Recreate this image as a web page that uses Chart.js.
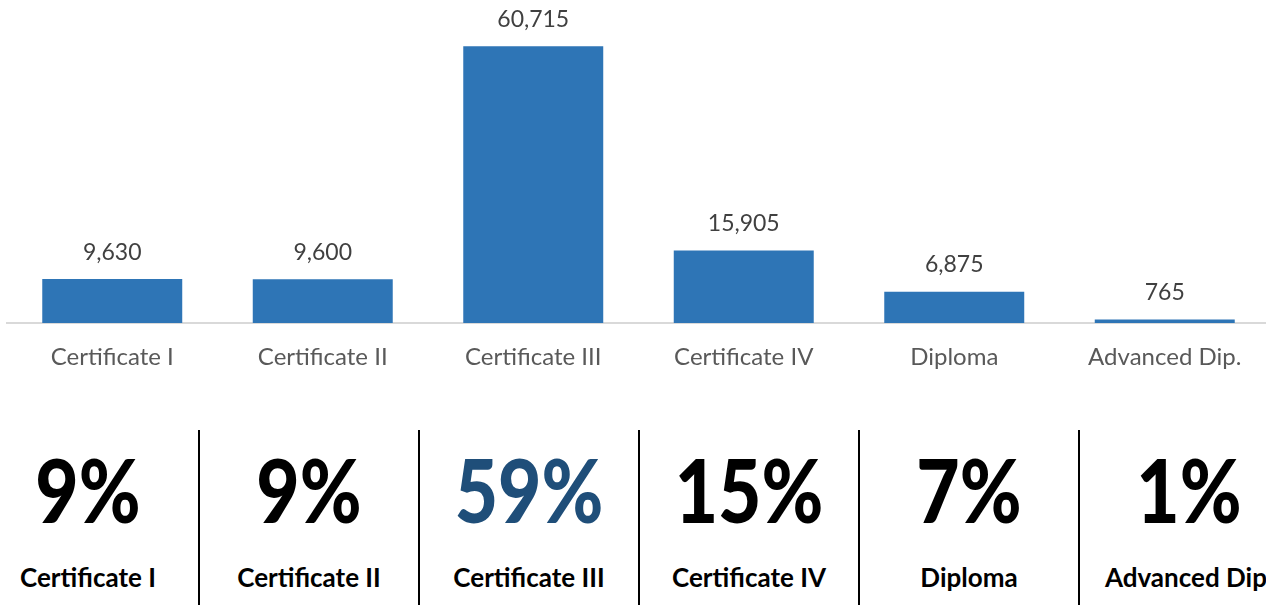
<!DOCTYPE html>
<html lang="en">
<head>
    <meta charset="UTF-8">
    <title>Qualification Levels</title>
    <script src="https://cdn.jsdelivr.net/npm/chart.js"></script>
    <style>
        html, body { margin: 0; padding: 0; background: #fff; overflow: hidden; }
        body { width: 1266px; height: 605px; position: relative; font-family: Lato, Arial, sans-serif; }
        #chart-box { position: absolute; left: 0; top: 0; width: 1275px; height: 380px; }
        #panel { position: absolute; left: -22px; top: 430px; width: 1320px; height: 175px; display: flex; }
        .cell { width: 220px; height: 175px; position: relative; text-align: center; box-sizing: border-box; }
        .cell + .cell { border-left: 2px solid #000; }
        .pct { position: absolute; left: 0; right: 0; top: 10px; font-size: 87px; font-weight: 900; line-height: 100px; color: #000; transform: scaleX(0.86); }
        .name { position: absolute; left: 0; right: 0; top: 132px; font-size: 26px; font-weight: 700; line-height: 30px; color: #000; white-space: nowrap; }
    </style>
</head>
<body>
    <div id="chart-box"><canvas id="chart"></canvas></div>
    <div id="panel"></div>

    <script>
        const categories = ['Certificate I', 'Certificate II', 'Certificate III', 'Certificate IV', 'Diploma', 'Advanced Dip.'];
        const students = [9630, 9600, 60715, 15905, 6875, 765];
        const shareLabels = ['9%', '9%', '59%', '15%', '7%', '1%'];
        const highlight = 2; // Certificate III shown in blue

        // value labels above each bar
        const valueLabels = {
            id: 'valueLabels',
            afterDatasetsDraw(chart) {
                const ctx = chart.ctx;
                const meta = chart.getDatasetMeta(0);
                ctx.save();
                ctx.font = '23px Lato, Arial, sans-serif';
                ctx.fillStyle = '#404040';
                ctx.textAlign = 'center';
                ctx.textBaseline = 'middle';
                meta.data.forEach((bar, i) => {
                    ctx.fillText(students[i].toLocaleString('en-US'), bar.x, bar.y - 27);
                });
                ctx.restore();
            }
        };

        new Chart(document.getElementById('chart'), {
            type: 'bar',
            data: {
                labels: categories,
                datasets: [{
                    data: students,
                    backgroundColor: '#2E75B6',
                    borderWidth: 0,
                    barPercentage: 0.665,
                    categoryPercentage: 1
                }]
            },
            options: {
                responsive: true,
                maintainAspectRatio: false,
                animation: false,
                layout: { padding: { left: 7, right: 5, top: 4, bottom: 0 } },
                plugins: { legend: { display: false }, tooltip: { enabled: false } },
                scales: {
                    x: {
                        grid: { display: false, drawTicks: false },
                        border: { display: true, color: '#D9D9D9', width: 2 },
                        ticks: {
                            color: '#595959',
                            padding: 20,
                            font: { family: 'Lato, Arial, sans-serif', size: 24 },
                            maxRotation: 0,
                            autoSkip: false
                        },
                        afterFit: (scale) => { scale.height = 57; }
                    },
                    y: { display: false, min: 0, max: 70000 }
                }
            },
            plugins: [valueLabels]
        });

        // share panel under the chart
        const panel = document.getElementById('panel');
        shareLabels.forEach((p, i) => {
            const cell = document.createElement('div');
            cell.className = 'cell';
            const color = i === highlight ? '#1F4E79' : '#000';
            cell.innerHTML = `<div class="pct" style="color:${color}">${p}</div><div class="name">${categories[i]}</div>`;
            panel.appendChild(cell);
        });
    </script>
</body>
</html>
